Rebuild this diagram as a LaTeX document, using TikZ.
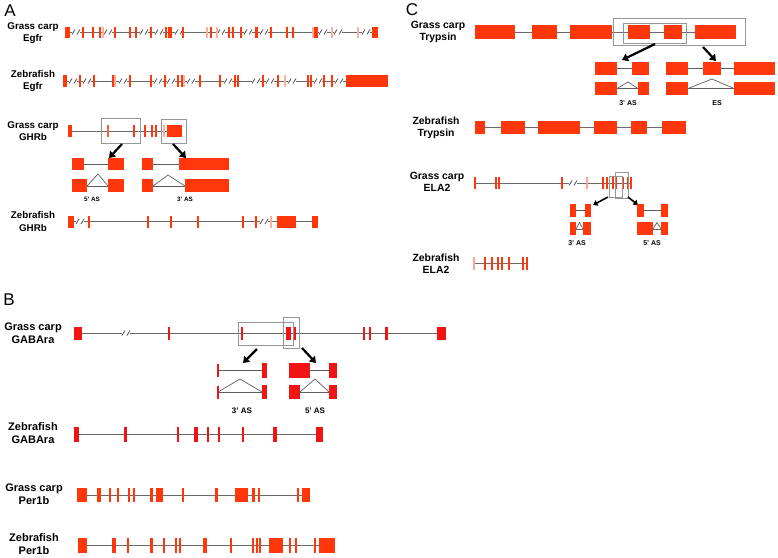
\documentclass[tikz,border=0pt]{standalone}
\usepackage{fontspec}
\setmainfont{Liberation Sans}
\usetikzlibrary{arrows.meta}
\definecolor{exred}{RGB}{255,55,10}
\definecolor{gabared}{RGB}{240,20,20}
\definecolor{intgray}{RGB}{105,105,105}
\definecolor{boxgray}{RGB}{150,150,150}
\newcommand{\gbig}[5][exred]{\fill[#1] (#2,#4-#5) rectangle (#3,#4+#5);}
\newcommand{\gthin}[4][exred]{\fill[#1] (#2-1.4,#3-#4) rectangle (#2+1.4,#3+#4);}
\newcommand{\gbreak}[2]{\fill[white] (#1-4,#2-1.5) rectangle (#1+4,#2+1.5);
  \draw[brkst] (#1-4,#2+2.5)--(#1-1,#2-2.5) (#1+1,#2+2.5)--(#1+4,#2-2.5);}
\begin{document}
\begin{tikzpicture}[x=1pt,y=-1pt,
  intron/.style={draw=intgray,line width=1pt},
  subintron/.style={draw=intgray!90!black,line width=0.7pt},
  brkst/.style={draw=intgray!80!black,line width=0.8pt},
  zoombox/.style={draw=boxgray,line width=0.7pt},
  bigarrow/.style={line width=2.2pt,-{Triangle[length=6pt,width=8pt]}},
  smallarrow/.style={line width=1.6pt,-{Triangle[length=4.5pt,width=6pt]}},
  lblA/.style={align=center,inner sep=0pt,font=\bfseries\fontsize{9.8}{12.2}\selectfont},
  lblB/.style={align=center,inner sep=0pt,font=\bfseries\fontsize{11}{13}\selectfont},
  lblC/.style={align=center,inner sep=0pt,font=\bfseries\fontsize{10.4}{12.2}\selectfont},
  aslbl/.style={inner sep=0pt,font=\bfseries\fontsize{6.3}{7}\selectfont},
  aslblB/.style={inner sep=0pt,font=\bfseries\fontsize{8}{9}\selectfont},
  aslblC/.style={inner sep=0pt,font=\bfseries\fontsize{7}{8}\selectfont},
  panel/.style={inner sep=0pt,font=\fontsize{17}{17}\selectfont}]
\useasboundingbox (0,0) rectangle (778,557);
\fill[white] (0,0) rectangle (778,557);

% ================= Panel A =================
\node[panel] (pA) at (10,11) {A};
% Grass carp Egfr
\node[lblA] (lgcEgfr) at (33,33) {Grass carp\\Egfr};
\draw[intron] (65,32) -- (378,32);
\foreach \b in {76,108,144,159,179,221,248,264,323,338,366} {\gbreak{\b}{32}}
\gbig{65}{70}{32}{5.5}
\gbig{372}{378}{32}{5.5}
\gbig{255}{258}{32}{5.5}
\foreach \x in {83,93,100,115,130,136,151,166,169,171,183,211,229,233,241,271,287,293,315,317} {\gthin{\x}{32}{5.5}}
\foreach \x in {103,207,217,313,332,358} {\gthin[exred!40]{\x}{32}{5.5}}
% Zebrafish Egfr
\node[lblA] (lzfEgfr) at (33,81) {Zebrafish\\Egfr};
\draw[intron] (63,81) -- (387,81);
\foreach \b in {73,87,123,158,171,191,228,256,270,292,318,339} {\gbreak{\b}{81}}
\gbig{63}{66.5}{81}{6}
\gbig{346}{388}{81}{6}
\foreach \x in {80,94,113,130,151,165,178,182,200,220,235,238,263,278,308,311,324,332} {\gthin{\x}{81}{6}}
\foreach \x in {115,184,285} {\gthin[exred!40]{\x}{81}{6}}
% Grass carp GHRb
\node[lblA] (lgcGHRb) at (33,131.5) {Grass carp\\GHRb};
\draw[intron] (68,131) -- (182,131);
\gbig{68}{72}{131}{6}
\gbig{167}{182}{131}{6}
\foreach \x in {134,145,152,156} {\gthin{\x}{131}{6}}
\gthin[exred!80]{108}{131}{6}
\gthin[exred!40]{164}{131}{6}
\draw[zoombox] (101,118) rectangle (140,143);
\draw[zoombox] (161,119) rectangle (186,143);
\coordinate (aA1s) at (122,144); \coordinate (aA1e) at (109,158);
\coordinate (aA2s) at (173,144); \coordinate (aA2e) at (186,158);
\draw[bigarrow] (aA1s) -- (aA1e);
\draw[bigarrow] (aA2s) -- (aA2e);
% 5' AS
\draw[subintron] (84,164) -- (108,164);
\gbig{72}{84}{164}{6}
\gbig{108}{124}{164}{6}
\draw[subintron] (87,186) -- (108,186);
\draw[subintron] (87,186) -- (98,174) -- (108,186);
\gbig{72}{87}{185.5}{6.5}
\gbig{108}{124}{185.5}{6.5}
\node[aslbl] (lA5) at (92,199) {5' AS};
% 3' AS
\draw[subintron] (153,164) -- (179,164);
\gbig{142}{153}{164}{6}
\gbig{179}{229}{164}{6}
\draw[subintron] (153,186) -- (185,186);
\draw[subintron] (153,186) -- (168,175) -- (185,186);
\gbig{142}{153}{185.5}{6.5}
\gbig{185}{229}{185.5}{6.5}
\node[aslbl] (lA3) at (185,199) {3' AS};
% Zebrafish GHRb
\node[lblA] (lzfGHRb) at (33,221.5) {Zebrafish\\GHRb};
\draw[intron] (68,221.5) -- (318,221.5);
\foreach \b in {80,264} {\gbreak{\b}{221.5}}
\gbig{68}{74}{221.5}{6}
\gbig{277}{296}{221.5}{6}
\gbig{312}{318}{221.5}{6}
\foreach \x in {89,148,171,198,243,256} {\gthin{\x}{221.5}{6}}
\gthin[exred!40]{271}{221.5}{6}

% ================= Panel B =================
\node[panel] (pB) at (9,300) {B};
% Grass carp GABAra
\node[lblB] (lgcGABA) at (33,333) {Grass carp\\GABAra};
\draw[intron] (74,333) -- (446,333);
\gbreak{126}{333}
\gbig[gabared]{74}{82}{333}{6.5}
\gbig[gabared]{437}{446}{333}{6.5}
\gbig[gabared]{286}{290.5}{333}{6.5}
\gbig[gabared]{385}{388}{333}{6.5}
\foreach \x in {169,242,295,364,370} {\gthin[gabared]{\x}{333}{6.5}}
\draw[zoombox] (238,322) rectangle (293,345);
\draw[zoombox] (283,317) rectangle (299,348);
\coordinate (aB1s) at (257,349); \coordinate (aB1e) at (243,363);
\coordinate (aB2s) at (302,348); \coordinate (aB2e) at (316,363);
\draw[bigarrow] (aB1s) -- (aB1e);
\draw[bigarrow] (aB2s) -- (aB2e);
% 3' AS
\draw[subintron] (218,370.5) -- (262,370.5);
\gthin[gabared]{218}{370.5}{6.5}
\gbig[gabared]{262}{267}{370.5}{7.5}
\draw[subintron] (218,392) -- (262,392);
\draw[subintron] (218,392) -- (240,379) -- (262,392);
\gthin[gabared]{218}{392}{6.5}
\gbig[gabared]{262}{267}{392}{7}
\node[aslblB] (lB3) at (242,411) {3' AS};
% 5' AS
\draw[subintron] (310,370.5) -- (329,370.5);
\gbig[gabared]{289}{310}{370.5}{7.5}
\gbig[gabared]{329}{337}{370.5}{7.5}
\draw[subintron] (300,392) -- (329,392);
\draw[subintron] (300,392) -- (315,379) -- (329,392);
\gbig[gabared]{289}{300}{392}{7}
\gbig[gabared]{329}{337}{392}{7}
\node[aslblB] (lB5) at (315,411) {5' AS};
% Zebrafish GABAra
\node[lblB] (lzfGABA) at (33,433) {Zebrafish\\GABAra};
\draw[intron] (74,434) -- (323,434);
\gbig[gabared]{74}{79}{434}{7.5}
\gbig[gabared]{316}{323}{434}{7.5}
\gbig[gabared]{124}{127}{434}{7.5}
\gbig[gabared]{194}{198}{434}{7.5}
\gbig[gabared]{273}{276.5}{434}{7.5}
\foreach \x in {178,208,219,243} {\gthin[gabared]{\x}{434}{7.5}}
% Grass carp Per1b
\node[lblB] (lgcPer) at (34,494.5) {Grass carp\\Per1b};
\draw[intron] (77,495) -- (310,495);
\gbig{77}{87}{495}{7}
\gbig{97}{100.5}{495}{7}
\gbig{235}{248}{495}{7}
\gbig{302}{310}{495}{7}
\gbig{150}{153}{495}{7}
\gbig{215}{217.5}{495}{7}
\foreach \x in {110,118,129,134,157,159.5,162,183,253.5,259,298} {\gthin{\x}{495}{7}}
% Zebrafish Per1b
\node[lblB] (lzfPer) at (34,544.5) {Zebrafish\\Per1b};
\draw[intron] (78,545.5) -- (335,545.5);
\gbig{78}{87}{545.5}{7.5}
\gbig{112}{115.5}{545.5}{7.5}
\gbig{150}{152.5}{545.5}{7.5}
\gbig{203}{207}{545.5}{7.5}
\gbig{269}{283}{545.5}{7.5}
\gbig{319}{335}{545.5}{7.5}
\foreach \x in {128,164,176,180,231,253,257,260,290,296,315} {\gthin{\x}{545.5}{7.5}}

% ================= Panel C =================
\node[panel] (pC) at (412,10) {C};
% Grass carp Trypsin
\node[lblC] (lgcTry) at (438,32) {Grass carp\\Trypsin};
\draw[intron] (475,32) -- (736,32);
\foreach \a/\b in {475/515,532/557,570/612,628/650,664/682,695/736} {\gbig{\a}{\b}{32}{7}}
\draw[zoombox] (613,18) rectangle (745,45);
\draw[zoombox] (623,23) rectangle (686,43);
\coordinate (aC1s) at (655,44); \coordinate (aC1e) at (622,60);
\coordinate (aC2s) at (703,47); \coordinate (aC2e) at (716,61);
\draw[bigarrow] (aC1s) -- (aC1e);
\draw[bigarrow] (aC2s) -- (aC2e);
% 3' AS
\draw[subintron] (617,68.5) -- (632,68.5);
\gbig{595}{617}{68.5}{6.5}
\gbig{632}{649}{68.5}{6.5}
\draw[subintron] (617,88.5) -- (638,88.5);
\draw[subintron] (617,88.5) -- (628,82) -- (638,88.5);
\gbig{595}{617}{88.5}{6.5}
\gbig{638}{649}{88.5}{6.5}
\node[aslblC] (lC3) at (628,103) {3' AS};
% ES
\draw[subintron] (688,68.5) -- (734,68.5);
\gbig{666}{688}{68.5}{6.5}
\gbig{703}{721}{68.5}{6.5}
\gbig{734}{775}{68.5}{6.5}
\draw[subintron] (688,88.5) -- (734,88.5);
\draw[subintron] (688,88.5) -- (712,79) -- (734,88.5);
\gbig{666}{688}{88.5}{6.5}
\gbig{734}{775}{88.5}{6.5}
\node[aslblC] (lCES) at (717,103) {ES};
% Zebrafish Trypsin
\node[lblC] (lzfTry) at (436,127.5) {Zebrafish\\Trypsin};
\draw[intron] (475,127) -- (686,127);
\foreach \a/\b in {475/485,501/525,538/580,594/617,631/647,662/686} {\gbig{\a}{\b}{127}{6.5}}
% Grass carp ELA2
\node[lblC] (lgcELA) at (437,182) {Grass carp\\ELA2};
\draw[intron] (474,183) -- (632,183);
\gbreak{573}{183}
\foreach \x in {475,496,499,562,603,607,613,616,623,628,631} {\gthin{\x}{183}{6}}
\gthin[exred!45]{587}{183}{6}
\draw[zoombox] (609,176) rectangle (622,197);
\draw[zoombox] (615,172) rectangle (628,198);
\coordinate (aE1s) at (608,197); \coordinate (aE1e) at (593,205);
\coordinate (aE2s) at (628,197); \coordinate (aE2e) at (638,205);
\draw[smallarrow] (aE1s) -- (aE1e);
\draw[smallarrow] (aE2s) -- (aE2e);
% 3' AS
\draw[subintron] (576,210.5) -- (585,210.5);
\gbig{570}{576}{210.5}{6.5}
\gbig{585}{591}{210.5}{6.5}
\draw[subintron] (576,229) -- (583,229);
\draw[subintron] (576,229) -- (579.5,222.5) -- (583,229);
\gbig{570}{576}{228.5}{6.5}
\gbig{583}{591}{228.5}{6.5}
\node[aslblC] (lE3) at (577,243) {3' AS};
% 5' AS
\draw[subintron] (644,210.5) -- (661,210.5);
\gbig{637}{644}{210.5}{6.5}
\gbig{661}{668}{210.5}{6.5}
\draw[subintron] (653,229) -- (661,229);
\draw[subintron] (653,229) -- (657,222.5) -- (661,229);
\gbig{637}{653}{228.5}{6.5}
\gbig{661}{668}{228.5}{6.5}
\node[aslblC] (lE5) at (652,243) {5' AS};
% Zebrafish ELA2
\node[lblC] (lzfELA) at (436,264) {Zebrafish\\ELA2};
\draw[intron] (474,263.5) -- (528,263.5);
\foreach \x in {485,492,498,502,509,523,527} {\gthin{\x}{263.5}{6.5}}
\gthin[exred!45]{474}{263.5}{6.5}
\end{tikzpicture}
\end{document}
